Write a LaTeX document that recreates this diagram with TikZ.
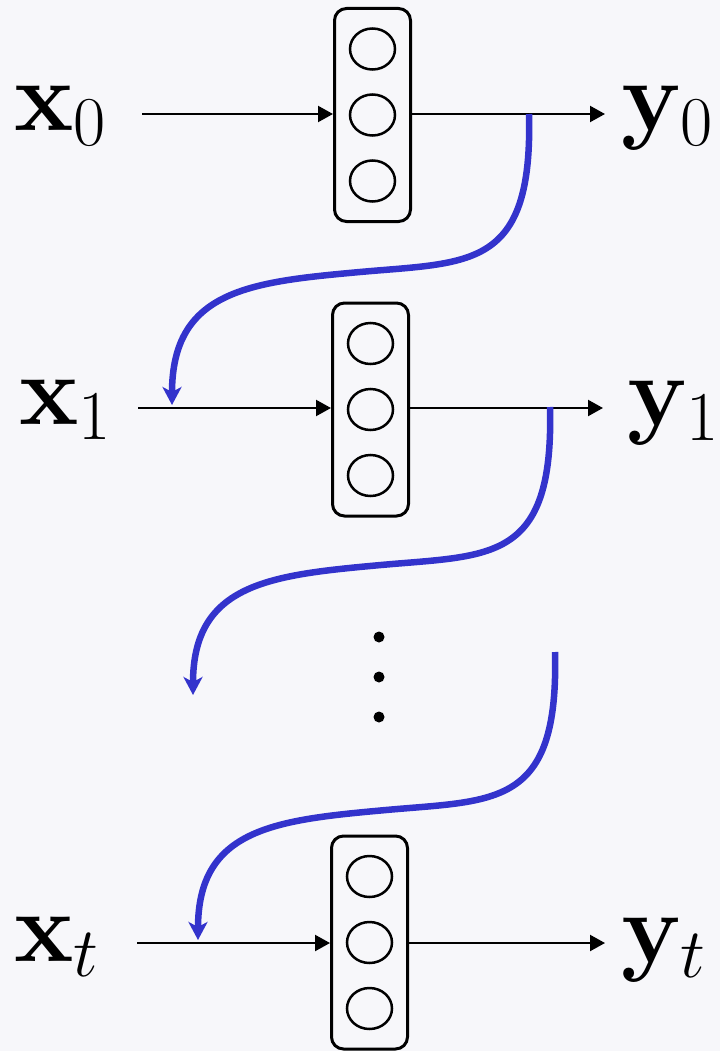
\documentclass[tikz,border=0pt]{standalone}
\usepackage{fix-cm}
\usetikzlibrary{arrows.meta,shapes.geometric}
\definecolor{bg}{HTML}{F7F7FA}
\definecolor{rnnblue}{HTML}{3333CC}
\begin{document}
\begin{tikzpicture}[x=1pt,y=-1pt,
 cell/.style={draw,line width=3pt,rounded corners=12pt,minimum width=76pt,minimum height=213pt,inner sep=0pt},
 unit/.style={draw,ellipse,line width=2.5pt,minimum width=45pt,minimum height=41pt,inner sep=0pt},
 flow/.style={line width=2.2pt,-{Triangle[length=15pt,width=16pt]}},
 rec/.style={rnnblue,line width=6.5pt,-{Stealth[length=18pt,width=19pt,inset=5pt]}},
 lab/.style={anchor=base west,inner sep=0pt,font=\fontsize{100}{120}\selectfont},
 dotn/.style={circle,fill=black,inner sep=0pt,minimum size=11pt}]
\fill[bg] (0,0) rectangle (720,1051);
\useasboundingbox (0,0) rectangle (720,1051);

% cells
\node[cell] (c0) at (372.5,115) {};
\node[cell] (c1) at (370.5,409.5) {};
\node[cell] (ct) at (369.5,942.5) {};
\foreach \c in {c0,c1,ct}{
  \node[unit] (\c a) at ([yshift=66pt]\c.center) {};
  \node[unit] (\c b) at (\c.center) {};
  \node[unit] (\c c) at ([yshift=-66pt]\c.center) {};
}

% labels
\node[lab] (x0) at (14,131) {$\mathbf{x}_0$};
\node[lab] (x1) at (19,424) {$\mathbf{x}_1$};
\node[lab] (xt) at (14,961) {$\mathbf{x}_t$};
\node[lab] (y0) at (621,131) {$\mathbf{y}_0$};
\node[lab] (y1) at (627,425) {$\mathbf{y}_1$};
\node[lab] (yt) at (621,962) {$\mathbf{y}_t$};

% input / output coordinates
\coordinate (i0) at (142,114);
\coordinate (i1) at (138,408);
\coordinate (it) at (137,943);
\coordinate (o0) at (605,114);
\coordinate (o1) at (603,408);
\coordinate (ot) at (605,943);

\draw[flow] (i0) -- (i0 -| c0.west);
\draw[flow] (i1) -- (i1 -| c1.west);
\draw[flow] (it) -- (it -| ct.west);
\draw[flow] (o0 -| c0.east) -- (o0);
\draw[flow] (o1 -| c1.east) -- (o1);
\draw[flow] (ot -| ct.east) -- (ot);

% dots
\node[dotn] (d1) at (379,637) {};
\node[dotn] (d2) at (379,677) {};
\node[dotn] (d3) at (379,717) {};

% recurrent connections
\coordinate (s0) at (529,114);
\coordinate (h1) at (172,405);
\coordinate (s1) at (550,407);
\coordinate (h2) at (193,695);
\coordinate (s2) at (555,652);
\coordinate (h3) at (198,940);
\draw[rec] (s0) .. controls +(4,156) and +(110,-10) .. (360,272)
               .. controls +(-110,10) and +(0,-115) .. (h1);
\draw[rec] (s1) .. controls +(4,156) and +(110,-10) .. (381,565)
               .. controls +(-110,10) and +(0,-112) .. (h2);
\draw[rec] (s2) .. controls +(4,156) and +(110,-10) .. (386,810)
               .. controls +(-110,10) and +(0,-112) .. (h3);
\end{tikzpicture}
\end{document}
